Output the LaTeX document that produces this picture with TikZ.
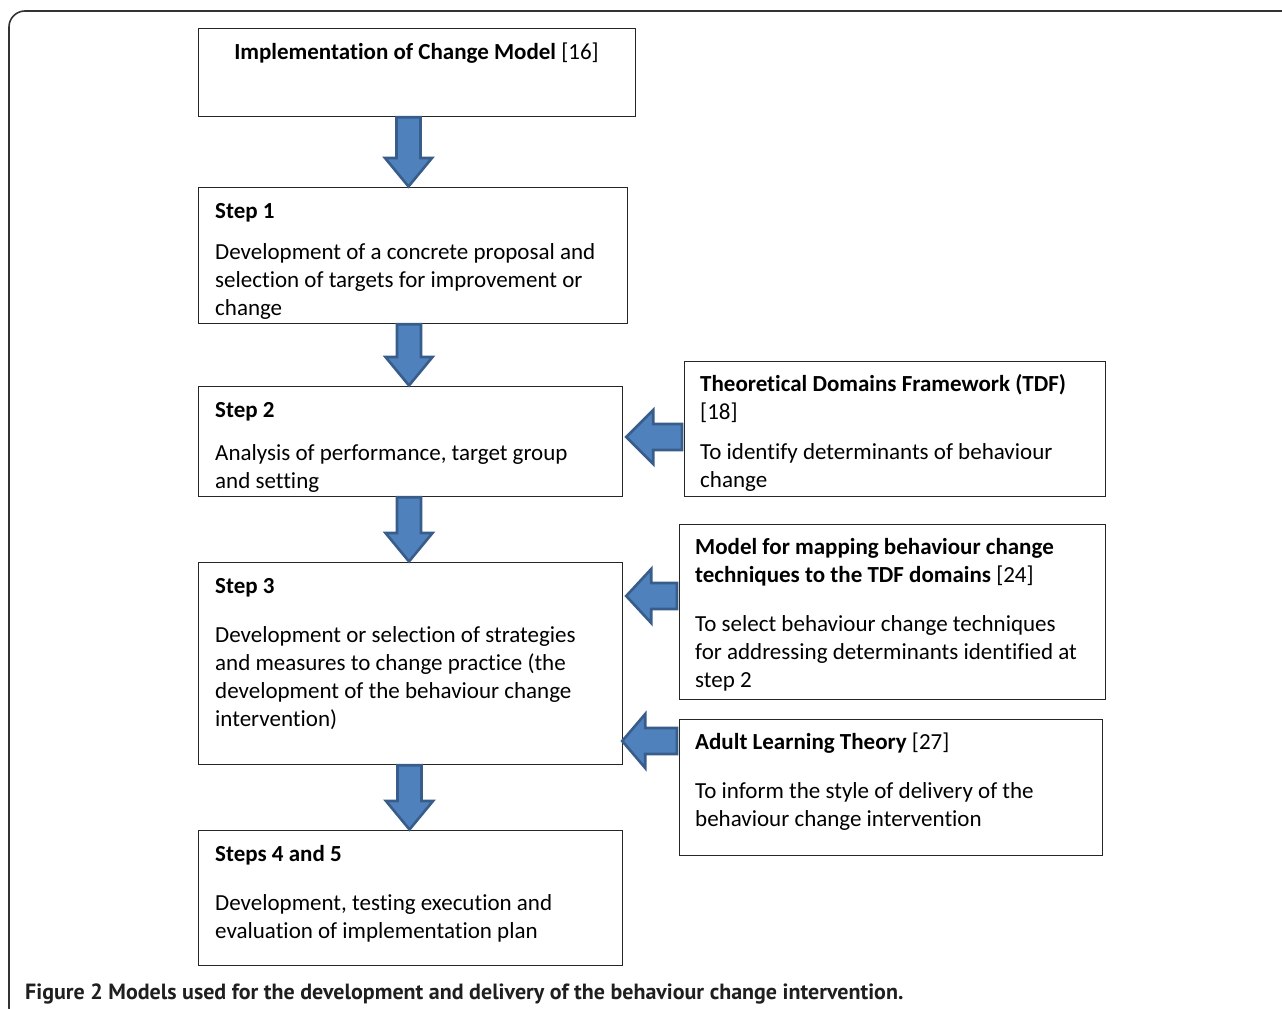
\documentclass[tikz,border=0pt]{standalone}
\usepackage{fontspec}
\setmainfont{Carlito}[Ligatures={NoCommon,NoRare,NoDiscretionary}]
\newfontfamily\capfont{PT Sans}
\usetikzlibrary{calc}
\definecolor{arrowfill}{HTML}{4F81BD}
\definecolor{arrowline}{HTML}{385D8A}
\newcommand\tblock[1]{\vtop{\baselineskip=28pt\lineskiplimit=0pt\halign{##\hfil\cr#1\crcr}}}
\newcommand\pgap[1]{\noalign{\vskip#1pt}}
\tikzset{
  box/.style={draw=black!85, line width=1.2pt, rectangle, inner sep=0pt},
  txt/.style={anchor=base west, inner sep=0pt, font=\fontsize{23}{28}\selectfont},
  barrow/.style={fill=arrowfill, draw=arrowline, line width=2.6pt, line join=miter},
}
% down arrow from node #1 (south) to node #2 (north) at x = #3
\newcommand\downarrowblock[3]{%
  \path let \p1=(#1.south), \p2=(#2.north) in
    [barrow] (#3-12,\y1) -- (#3+12,\y1) -- (#3+12,\y2+29) -- (#3+23.5,\y2+29)
      -- (#3,\y2+0.5) -- (#3-23.5,\y2+29) -- (#3-12,\y2+29) -- cycle;}
% left arrow from node #1 (west) to node #2 (east) at y = #3, head length #4, tip offset #5
\newcommand\leftarrowblock[5]{%
  \path let \p1=(#1.west), \p2=(#2.east) in
    [barrow] (\x1-2,#3-13) -- (\x1-2,#3+13) -- (\x2+#4,#3+13) -- (\x2+#4,#3+27)
      -- (\x2+#5,#3) -- (\x2+#4,#3-27) -- (\x2+#4,#3-13) -- cycle;}
\begin{document}
\begin{tikzpicture}[x=1pt,y=-1pt]
\useasboundingbox (0,0) rectangle (1282,1009);
\begin{scope}
\clip (0,0) rectangle (1282,1009);
\draw[line width=1.6pt, draw=black!80, rounded corners=16] (1290,11) -- (9,11) -- (9,1024) -- (60,1024);
\end{scope}

% main boxes
\node[box, anchor=north west, minimum width=437, minimum height=88] (b0) at (198,28) {};
\node[box, anchor=north west, minimum width=429, minimum height=136] (b1) at (198,187) {};
\node[box, anchor=north west, minimum width=424, minimum height=110] (b2) at (198,386) {};
\node[box, anchor=north west, minimum width=424, minimum height=202] (b3) at (198,562) {};
\node[box, anchor=north west, minimum width=424, minimum height=135] (b4) at (198,830) {};
% side boxes
\node[box, anchor=north west, minimum width=421, minimum height=135] (s1) at (684,361) {};
\node[box, anchor=north west, minimum width=426, minimum height=175] (s2) at (679,524) {};
\node[box, anchor=north west, minimum width=423, minimum height=136] (s3) at (679,719) {};

% texts
\node[txt, anchor=base] (t0) at (416.5,59) {\textbf{Implementation of Change Model} [16]};
\node[txt] (t1) at (215,218) {\tblock{\textbf{Step 1}\cr\pgap{13}Development of a concrete proposal and\cr selection of targets for improvement or\cr change}};
\node[txt] (t2) at (215,417) {\tblock{\textbf{Step 2}\cr\pgap{15}Analysis of performance, target group\cr and setting}};
\node[txt] (t3) at (215,593) {\tblock{\textbf{Step 3}\cr\pgap{21}Development or selection of strategies\cr and measures to change practice (the\cr development of the behaviour change\cr intervention)}};
\node[txt] (t4) at (215,861) {\tblock{\textbf{Steps 4 and 5}\cr\pgap{21}Development, testing execution and\cr evaluation of implementation plan}};
\node[txt] (u1) at (700,391) {\tblock{\textbf{Theoretical Domains Framework (TDF)}\cr [18]\cr\pgap{12}To identify determinants of behaviour\cr change}};
\node[txt] (u2) at (695,554) {\tblock{\textbf{Model for mapping behaviour change}\cr \textbf{techniques to the TDF domains} [24]\cr\pgap{21}To select behaviour change techniques\cr for addressing determinants identified at\cr step 2}};
\node[txt] (u3) at (695,749) {\tblock{\textbf{Adult Learning Theory} [27]\cr\pgap{21}To inform the style of delivery of the\cr behaviour change intervention}};

% caption
\node[anchor=base west, inner sep=0pt, text=black!88, font=\capfont\bfseries\fontsize{22}{26}\selectfont] (cap) at (25,999)
  {Figure 2 Models used for the development and delivery of the behaviour change intervention.};

% arrows
\downarrowblock{b0}{b1}{408.5}
\downarrowblock{b1}{b2}{409}
\downarrowblock{b2}{b3}{409}
\downarrowblock{b3}{b4}{409.5}
\leftarrowblock{s1}{b2}{437}{30}{3}
\leftarrowblock{s2}{b2}{596}{28}{3}
\leftarrowblock{s3}{b3}{741}{22}{-1}
\end{tikzpicture}
\end{document}
